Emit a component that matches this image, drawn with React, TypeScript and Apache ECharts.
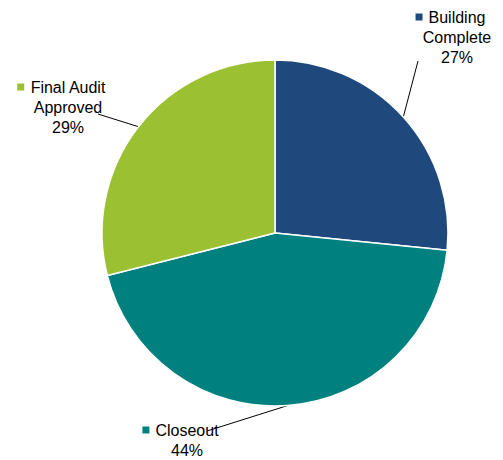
import React, { useEffect, useRef } from "react";
import * as echarts from "echarts";

const categories = ["Building Complete", "Closeout", "Final Audit Approved"];
const labelLines = [["Building", "Complete"], ["Closeout"], ["Final Audit", "Approved"]];
const values = [26.6, 44.45, 28.95];
const colors = ["#1F487C", "#00807F", "#9BC032"];

// label block anchors (center x, top y) and leader line end points — layout only
const labelAnchors = [
  [457, 7],
  [187, 420],
  [68, 77],
];
const lineEnds = [
  [418, 61],
  [207, 431],
  [98, 114],
];

export default function App() {
  const ref = useRef<HTMLDivElement>(null);
  useEffect(() => {
    document.body.style.margin = "0";
    if (!ref.current) return;
    const chart = echarts.init(ref.current, undefined, { renderer: "svg" });
    const rich: Record<string, any> = {
      t: { fontSize: 16, fontFamily: "Liberation Sans", color: "#000", lineHeight: 20 },
      g: { width: 6, height: 7, lineHeight: 20 },
      p: { width: 13, height: 7, lineHeight: 20 },
    };
    colors.forEach((c, i) => {
      rich["m" + i] = { width: 7, height: 7, backgroundColor: c, lineHeight: 20 };
    });
    chart.setOption({
      animation: false,
      backgroundColor: "#fff",
      series: [
        {
          type: "pie",
          center: [275, 233],
          radius: 173,
          startAngle: 90,
          clockwise: true,
          avoidLabelOverlap: false,
          itemStyle: { borderColor: "#fff", borderWidth: 1.5 },
          data: categories.map((name, i) => ({
            name,
            value: values[i],
            itemStyle: { color: colors[i] },
          })),
          label: {
            show: true,
            position: "outside",
            align: "center",
            fontSize: 16,
            fontFamily: "Liberation Sans",
            color: "#000",
            lineHeight: 20,
            formatter: (p: any) => {
              const lines = labelLines[p.dataIndex];
              const parts = [`{m${p.dataIndex}|}{g|}{t|${lines[0]}}{p|}`];
              for (let k = 1; k < lines.length; k++) parts.push(`{t|${lines[k]}}`);
              parts.push(`{t|${Math.round(p.percent)}%}`);
              return parts.join("\n");
            },
            rich,
          },
          labelLine: {
            show: true,
            length: 10,
            length2: 10,
            lineStyle: { color: "#000", width: 1 },
          },
          labelLayout: (params: any) => {
            const i = params.dataIndex;
            const pts = params.labelLinePoints;
            const res: any = {
              x: labelAnchors[i][0],
              y: labelAnchors[i][1],
              align: "center",
              verticalAlign: "top",
            };
            if (pts && pts[0]) {
              res.labelLinePoints = [pts[0], lineEnds[i], lineEnds[i]];
            }
            return res;
          },
        },
      ],
    });
    return () => chart.dispose();
  }, []);
  return <div ref={ref} style={{ width: 503, height: 460 }} />;
}
